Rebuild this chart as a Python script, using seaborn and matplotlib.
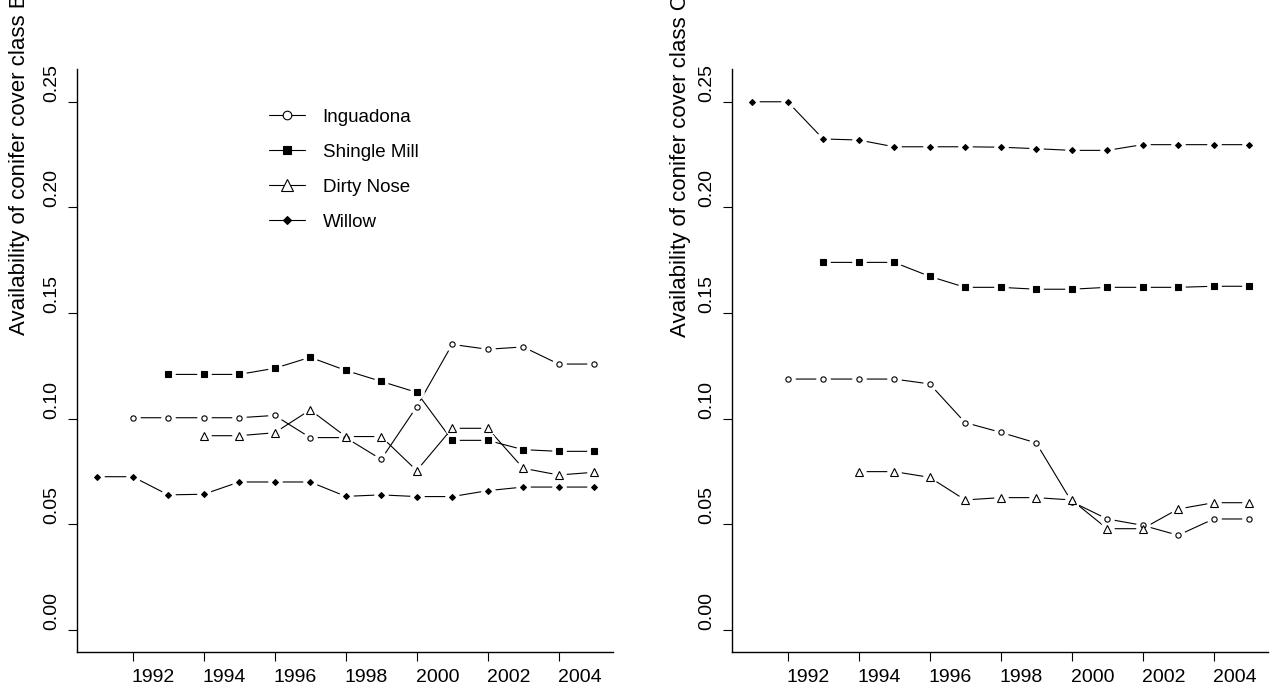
import matplotlib

matplotlib.use("Agg")

import matplotlib.pyplot as plt
import matplotlib.transforms as mtransforms
import pandas as pd
import seaborn as sns
from matplotlib.lines import Line2D

# --- data ---
SITES = ["Inguadona", "Shingle Mill", "Dirty Nose", "Willow"]
YEAR_TICKS = [1992, 1994, 1996, 1998, 2000, 2002, 2004]
Y_TICKS = [0.00, 0.05, 0.10, 0.15, 0.20, 0.25]

inguadona_years = [1992, 1993, 1994, 1995, 1996, 1997, 1998, 1999, 2000, 2001, 2002, 2003, 2004, 2005]
shingle_years = [1993, 1994, 1995, 1996, 1997, 1998, 1999, 2000, 2001, 2002, 2003, 2004, 2005]
dirty_years = [1994, 1995, 1996, 1997, 1998, 1999, 2000, 2001, 2002, 2003, 2004, 2005]
willow_years = [1991, 1992, 1993, 1994, 1995, 1996, 1997, 1998, 1999, 2000, 2001, 2002, 2003, 2004, 2005]

# cover class B (left panel)
b_inguadona = [0.1004, 0.1004, 0.1004, 0.1004, 0.1015, 0.0910, 0.0910, 0.0807, 0.1056, 0.1351, 0.1328, 0.1339, 0.1258, 0.1258]
b_shingle = [0.1209, 0.1209, 0.1209, 0.1238, 0.1290, 0.1228, 0.1176, 0.1124, 0.0897, 0.0897, 0.0853, 0.0845, 0.0845]
b_dirty = [0.0919, 0.0919, 0.0933, 0.1041, 0.0915, 0.0915, 0.0754, 0.0954, 0.0954, 0.0765, 0.0733, 0.0746]
b_willow = [0.0725, 0.0725, 0.0639, 0.0642, 0.0700, 0.0700, 0.0700, 0.0632, 0.0639, 0.0631, 0.0631, 0.0659, 0.0676, 0.0676, 0.0676]

# cover class C (right panel)
c_inguadona = [0.1187, 0.1187, 0.1187, 0.1187, 0.1164, 0.0981, 0.0935, 0.0885, 0.0607, 0.0525, 0.0495, 0.0448, 0.0525, 0.0525]
c_shingle = [0.1739, 0.1739, 0.1739, 0.1673, 0.1621, 0.1621, 0.1612, 0.1612, 0.1621, 0.1621, 0.1621, 0.1626, 0.1626]
c_dirty = [0.0749, 0.0749, 0.0722, 0.0615, 0.0626, 0.0626, 0.0615, 0.0479, 0.0479, 0.0572, 0.0602, 0.0602]
c_willow = [0.2499, 0.2499, 0.2323, 0.2318, 0.2286, 0.2286, 0.2286, 0.2284, 0.2277, 0.2269, 0.2269, 0.2296, 0.2296, 0.2296, 0.2296]

STYLE = {
    "Inguadona": dict(marker="o", face="white", ms=3.8, leg_ms=6.2),
    "Shingle Mill": dict(marker="s", face="black", ms=5.0, leg_ms=6.2),
    "Dirty Nose": dict(marker="^", face="white", ms=6.0, leg_ms=9.0),
    "Willow": dict(marker="D", face="black", ms=3.0, leg_ms=4.4),
}


def to_long(ing, shi, dir_, wil):
    frames = []
    for site, years, vals in [
        ("Inguadona", inguadona_years, ing),
        ("Shingle Mill", shingle_years, shi),
        ("Dirty Nose", dirty_years, dir_),
        ("Willow", willow_years, wil),
    ]:
        frames.append(pd.DataFrame({"site": site, "year": years, "value": vals}))
    return pd.concat(frames, ignore_index=True)


def draw_panel(ax, df):
    # lines first, then a white halo under each point so the lines stop short
    # of the symbols (like R's type="b"), then the symbols themselves
    for site in SITES:
        d = df[df["site"] == site]
        sns.lineplot(data=d, x="year", y="value", color="black", linewidth=0.8,
                     ax=ax, zorder=1, legend=False)
    for site in SITES:
        d = df[df["site"] == site]
        sns.scatterplot(data=d, x="year", y="value", marker="o", s=110,
                        color="white", linewidth=0, ax=ax, zorder=2, legend=False)
    for site in SITES:
        d = df[df["site"] == site]
        st = STYLE[site]
        sns.lineplot(data=d, x="year", y="value", linestyle="none", marker=st["marker"],
                     markersize=st["ms"], markerfacecolor=st["face"], markeredgecolor="black",
                     markeredgewidth=0.8, color="black", ax=ax, zorder=3, legend=False)

    ax.set_xlim(1990.44, 2005.53)
    ax.set_ylim(-0.0103, 0.2654)
    ax.set_xticks(YEAR_TICKS)
    ax.set_xticklabels([str(y) for y in YEAR_TICKS], ha="left")
    ax.set_yticks(Y_TICKS)
    ax.set_yticklabels([f"{v:.2f}" for v in Y_TICKS], rotation=90, va="bottom")
    ax.set_xlabel("")
    ax.set_ylabel("")
    ax.tick_params(axis="both", which="major", bottom=True, left=True, direction="out",
                   length=6.5, width=0.8, color="black", labelcolor="black",
                   labelsize=14, pad=6)
    for side in ["top", "right"]:
        ax.spines[side].set_visible(False)
    for side in ["left", "bottom"]:
        ax.spines[side].set_color("black")
        ax.spines[side].set_linewidth(1.0)


sns.set_theme(style="white")
plt.rcParams["font.family"] = ["Liberation Sans", "DejaVu Sans"]
plt.rcParams["text.color"] = "black"

df_b = to_long(b_inguadona, b_shingle, b_dirty, b_willow)
df_c = to_long(c_inguadona, c_shingle, c_dirty, c_willow)

fig = plt.figure(figsize=(12.72, 6.9), dpi=100)
ax_b = fig.add_axes([0.0608, 0.0555, 0.4211, 0.8445])
ax_c = fig.add_axes([0.5757, 0.0555, 0.4211, 0.8445])

draw_panel(ax_b, df_b)
draw_panel(ax_c, df_c)

# x tick labels start at the tick in the original
for ax in (ax_b, ax_c):
    for lab in ax.get_xticklabels():
        lab.set_transform(lab.get_transform() + mtransforms.ScaledTranslation(-0.01, 0, fig.dpi_scale_trans))

handles = [
    Line2D([], [], color="black", linewidth=0.8, marker=STYLE[s]["marker"],
           markersize=STYLE[s]["leg_ms"], markerfacecolor=STYLE[s]["face"],
           markeredgecolor="black", markeredgewidth=0.8)
    for s in SITES
]
ax_b.legend(handles, SITES, loc="upper left", bbox_to_anchor=(0.358, 0.932),
            frameon=False, fontsize=13.5, handlelength=1.9, handletextpad=0.95,
            labelspacing=0.95, borderpad=0, borderaxespad=0)

fig.text(0.0157, 1.009, "Availability of conifer cover class B", rotation=90,
         ha="center", va="top", fontsize=16)
fig.text(0.5346, 1.009, "Availability of conifer cover class C", rotation=90,
         ha="center", va="top", fontsize=16)

fig.savefig("out.png", dpi=100)
